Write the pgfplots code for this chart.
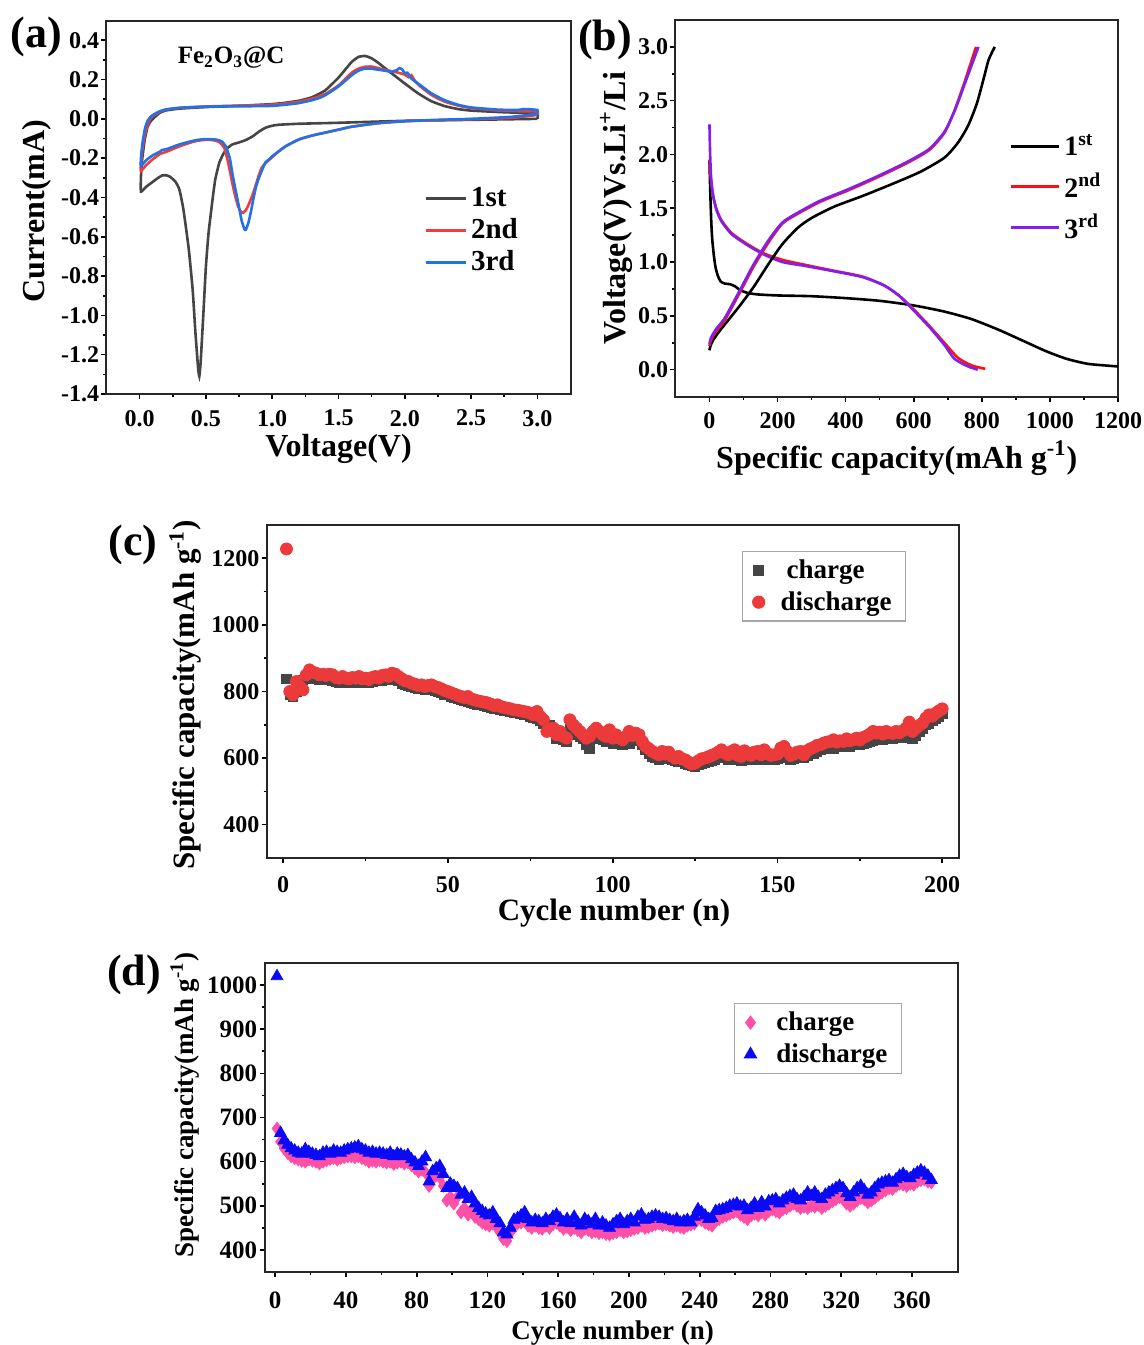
\documentclass[border=0pt]{standalone}
\usepackage{pgfplots}
\pgfplotsset{compat=1.18}
\usepackage{pgfplotstable}
\usepackage{fontspec}
\setmainfont{Liberation Serif}
\definecolor{cvgray}{HTML}{454545}
\definecolor{cvred}{HTML}{F03C3C}
\definecolor{cvblue}{HTML}{2272E6}
\definecolor{gcdred}{HTML}{FF1010}
\definecolor{gcdpur}{HTML}{8020F0}
\definecolor{cgray}{HTML}{454545}
\definecolor{cred}{HTML}{EC3A3A}
\definecolor{dpink}{HTML}{FF4FA7}
\definecolor{dblue}{HTML}{0A0AF5}
\newcommand{\fs}[1]{\fontsize{#1}{#1}\selectfont\bfseries}

\pgfplotstableread{
n c d
1 838 1228
2 790 800
3 785 790
4 800 830
5 830 815
6 835 805
7 840 850
8 842 865
9 840 858
10 838 855
11 836 850
12 838 852
13 835 848
14 836 852
15 834 850
16 830 842
17 828 840
18 830 845
19 828 840
20 826 838
21 828 842
22 826 840
23 828 845
24 826 838
25 828 840
26 827 836
27 830 842
28 832 845
29 833 840
30 834 848
31 836 850
32 835 845
33 838 855
34 836 852
35 832 845
36 825 838
37 820 832
38 818 830
39 815 825
40 812 822
41 810 818
42 808 820
43 806 815
44 805 818
45 806 820
46 804 815
47 800 812
48 796 808
49 792 803
50 790 800
51 786 796
52 782 792
53 778 788
54 775 785
55 772 782
56 770 785
57 768 778
58 765 775
59 762 772
60 760 770
61 758 768
62 755 766
63 752 762
64 750 758
65 748 760
66 746 755
67 744 752
68 742 750
69 740 748
70 738 745
71 736 744
72 734 742
73 732 740
74 730 738
75 726 735
76 722 730
77 718 740
78 712 725
79 705 715
80 690 680
81 700 685
82 680 690
83 660 670
84 665 680
85 655 665
86 650 660
87 690 715
88 680 700
89 670 690
90 665 680
91 660 670
92 640 660
93 630 665
94 660 680
95 670 690
96 665 680
97 655 670
98 650 665
99 660 685
100 645 660
101 650 670
102 648 660
103 640 655
104 650 665
105 645 680
106 652 668
107 660 675
108 655 670
109 640 650
110 625 635
111 615 628
112 605 620
113 600 615
114 595 610
115 598 620
116 602 612
117 600 618
118 595 606
119 592 600
120 590 605
121 588 598
122 584 595
123 580 588
124 576 582
125 575 585
126 580 592
127 582 598
128 585 600
129 590 604
130 592 608
131 596 612
132 600 618
133 605 625
134 600 615
135 595 610
136 598 620
137 600 625
138 594 608
139 592 605
140 600 622
141 598 612
142 596 608
143 600 618
144 598 620
145 595 610
146 600 625
147 598 614
148 594 608
149 596 610
150 598 612
151 605 630
152 610 635
153 600 620
154 596 608
155 598 612
156 602 618
157 605 620
158 600 610
159 608 622
160 612 628
161 615 632
162 620 638
163 625 640
164 628 645
165 630 648
166 632 650
167 630 655
168 634 648
169 636 652
170 635 650
171 638 658
172 636 652
173 640 655
174 642 660
175 640 654
176 645 662
177 648 666
178 650 672
179 652 680
180 655 675
181 658 678
182 656 672
183 660 680
184 662 676
185 660 674
186 664 680
187 662 676
188 665 682
189 668 690
190 662 708
191 660 680
192 668 690
193 680 698
194 690 705
195 700 720
196 705 730
197 712 726
198 718 735
199 725 742
200 735 748
}\tabc

\pgfplotstableread{
n c d
1 675 1020
3 645 665
5 630 648
7 620 638
9 612 630
11 608 625
13 605 620
15 602 618
17 600 628
19 605 622
21 602 618
23 600 615
25 596 612
27 600 620
29 603 622
31 606 618
33 608 625
35 605 622
37 608 620
39 610 625
41 612 628
43 612 630
45 610 632
47 612 635
49 608 628
51 605 625
53 600 620
55 602 622
57 600 618
59 603 620
61 600 618
63 598 615
65 600 620
67 595 612
69 598 618
71 600 616
73 596 612
75 598 615
77 592 605
79 585 598
81 578 590
83 582 600
85 575 610
87 545 555
89 560 578
91 570 585
93 565 590
95 545 572
97 512 540
99 520 550
101 505 545
103 520 540
105 485 525
107 495 530
109 480 515
111 490 520
113 475 505
115 470 495
117 462 488
119 458 482
121 455 478
123 460 485
125 452 470
127 440 460
129 425 440
131 420 435
133 440 450
135 455 468
137 460 472
139 462 478
141 465 485
143 455 470
145 450 462
147 455 468
149 450 465
151 448 460
153 455 470
155 450 465
157 458 475
159 462 480
161 455 472
163 448 462
165 452 470
167 445 460
169 450 475
171 445 462
173 440 455
175 448 470
177 445 465
179 440 458
181 442 470
183 438 455
185 440 462
187 436 455
189 435 450
191 438 458
193 440 465
195 445 470
197 440 458
199 442 465
201 445 470
203 448 462
205 450 475
207 455 480
209 450 468
211 452 470
213 455 475
215 458 478
217 460 475
219 456 470
221 458 472
223 455 468
225 452 465
227 455 470
229 452 462
231 450 465
233 455 468
235 458 462
237 460 475
239 470 492
241 468 485
243 462 478
245 458 470
247 455 472
249 465 488
251 470 490
253 475 492
255 478 495
257 482 500
259 485 502
261 488 505
263 480 498
265 475 500
267 470 490
269 478 495
271 482 505
273 478 495
275 485 508
277 480 498
279 488 510
281 492 512
283 488 515
285 485 505
287 492 512
289 495 518
291 500 522
293 505 525
295 500 515
297 495 512
299 498 520
301 495 530
303 500 522
305 498 530
307 502 520
309 495 515
311 500 525
313 505 530
315 510 535
317 515 540
319 520 545
321 515 540
323 505 528
325 500 520
327 505 530
329 512 540
331 518 545
333 515 535
335 508 525
337 512 530
339 518 540
341 525 548
343 530 552
345 535 555
347 540 558
349 538 552
351 545 560
353 550 568
355 548 572
357 545 565
359 550 562
361 548 570
363 555 575
365 558 580
367 560 575
369 555 568
371 553 558
}\tabd

\pgfplotsset{
  myax/.style={
    scale only axis,
    axis line style={line width=1pt, black!85},
    tick align=outside, tick pos=left,
    major tick length=2.5pt, minor tick length=1.5pt,
    every tick/.style={black, line width=0.8pt},
    minor tick num=1,
    /pgf/number format/assume math mode=true,
    /pgf/number format/1000 sep={},
    tick label style={font=\fs{12}},
    yticklabel style={inner xsep=1pt},
    xticklabel style={yshift=-2pt},
    label style={font=\fs{16}},
  },
}

\begin{document}
\begin{tikzpicture}
\path[use as bounding box] (0,0) rectangle (572pt,672.5pt);

% ---------- (a) ----------
\begin{axis}[myax, at={(53.25pt,475.5pt)}, anchor=south west,
  width=232pt, height=186.7pt,
  xmin=-0.25, xmax=3.25, ymin=-1.4, ymax=0.5,
  xtick={0,0.5,...,3.0}, ytick={-1.4,-1.2,...,0.41},
  xticklabel style={/pgf/number format/.cd, fixed, zerofill, precision=1},
  yticklabel style={/pgf/number format/.cd, fixed, zerofill, precision=1},
  xlabel={Voltage(V)}, ylabel={Current(mA)},
  xlabel style={at={(axis description cs:0.5,-0.147)}, anchor=center},
  ylabel style={at={(axis description cs:-0.15,0.49)}, anchor=center},
  legend style={draw=none, fill=none, at={(0.68,0.57)}, anchor=north west,
    font=\fs{14.5}, row sep=0.5pt, inner sep=1pt},
  legend cell align=left,
  legend image code/.code={\draw[#1] (0pt,0pt) -- (20pt,0pt);},
]
\addplot[cvgray, line width=1.3pt, smooth, tension=0.3] coordinates {
(3.0,0.0) (2.5,-0.005) (2.0,-0.01) (1.5,-0.02) (1.2,-0.025) (1.05,-0.03) (1.0,-0.035) (0.95,-0.045) (0.9,-0.065) (0.85,-0.09) (0.8,-0.108) (0.75,-0.12) (0.7,-0.13) (0.66,-0.15) (0.63,-0.18) (0.6,-0.225) (0.57,-0.31) (0.55,-0.41) (0.52,-0.58) (0.5,-0.75) (0.48,-1.0) (0.46,-1.24) (0.45,-1.31) (0.44,-1.26) (0.42,-1.08) (0.4,-0.87) (0.37,-0.66) (0.33,-0.46) (0.3,-0.36) (0.27,-0.32) (0.23,-0.295) (0.2,-0.287) (0.17,-0.288) (0.14,-0.3) (0.1,-0.32) (0.05,-0.345) (0.01,-0.37) (0.01,-0.29) (0.02,-0.2) (0.04,-0.1) (0.06,-0.04) (0.08,-0.015) (0.1,0.0) (0.15,0.03) (0.2,0.043) (0.3,0.052) (0.5,0.06) (0.8,0.068) (1.0,0.075) (1.1,0.082) (1.2,0.092) (1.3,0.11) (1.4,0.145) (1.5,0.21) (1.55,0.25) (1.6,0.29) (1.65,0.315) (1.7,0.32) (1.75,0.308) (1.8,0.285) (1.9,0.232) (2.0,0.18) (2.1,0.13) (2.2,0.09) (2.3,0.065) (2.4,0.05) (2.5,0.042) (2.7,0.035) (2.9,0.03) (3.0,0.028) (3.0,0.0)
};
\addlegendentry{1st}
\addplot[cvred, line width=1.3pt, smooth, tension=0.3] coordinates {
(3.0,0.02) (2.8,0.005) (2.5,-0.002) (2.2,-0.008) (2.0,-0.012) (1.8,-0.022) (1.6,-0.04) (1.5,-0.055) (1.4,-0.07) (1.3,-0.085) (1.2,-0.105) (1.1,-0.14) (1.05,-0.165) (1.0,-0.195) (0.95,-0.225) (0.92,-0.25) (0.9,-0.285) (0.87,-0.35) (0.85,-0.39) (0.82,-0.44) (0.8,-0.465) (0.78,-0.478) (0.76,-0.47) (0.74,-0.44) (0.72,-0.39) (0.7,-0.33) (0.67,-0.23) (0.64,-0.15) (0.6,-0.118) (0.55,-0.108) (0.5,-0.107) (0.45,-0.11) (0.4,-0.117) (0.3,-0.14) (0.2,-0.168) (0.15,-0.18) (0.1,-0.205) (0.05,-0.235) (0.01,-0.265) (0.01,-0.23) (0.02,-0.16) (0.04,-0.08) (0.06,-0.03) (0.08,0.0) (0.1,0.015) (0.15,0.035) (0.2,0.047) (0.3,0.056) (0.5,0.063) (0.8,0.068) (1.0,0.072) (1.1,0.078) (1.2,0.087) (1.3,0.103) (1.4,0.127) (1.5,0.17) (1.6,0.235) (1.65,0.255) (1.7,0.265) (1.75,0.266) (1.8,0.258) (1.85,0.25) (1.9,0.242) (1.95,0.235) (2.0,0.225) (2.03,0.212) (2.05,0.222) (2.07,0.2) (2.1,0.175) (2.2,0.122) (2.3,0.088) (2.4,0.068) (2.5,0.055) (2.7,0.043) (2.9,0.038) (3.0,0.037) (3.0,0.02)
};
\addlegendentry{2nd}
\addplot[cvblue, line width=1.3pt, smooth, tension=0.3] coordinates {
(3.0,0.025) (2.8,0.01) (2.5,0.0) (2.2,-0.006) (2.0,-0.012) (1.8,-0.022) (1.6,-0.04) (1.5,-0.055) (1.4,-0.07) (1.3,-0.085) (1.2,-0.105) (1.1,-0.14) (1.05,-0.165) (1.0,-0.19) (0.97,-0.21) (0.95,-0.22) (0.93,-0.25) (0.9,-0.3) (0.88,-0.34) (0.86,-0.4) (0.84,-0.47) (0.82,-0.53) (0.8,-0.565) (0.79,-0.56) (0.77,-0.52) (0.75,-0.45) (0.72,-0.35) (0.7,-0.28) (0.68,-0.2) (0.65,-0.14) (0.62,-0.115) (0.58,-0.106) (0.5,-0.103) (0.45,-0.106) (0.4,-0.112) (0.3,-0.13) (0.2,-0.155) (0.17,-0.158) (0.15,-0.168) (0.1,-0.185) (0.05,-0.21) (0.01,-0.24) (0.01,-0.2) (0.02,-0.13) (0.04,-0.05) (0.06,-0.01) (0.08,0.008) (0.1,0.02) (0.15,0.038) (0.2,0.048) (0.3,0.056) (0.5,0.062) (0.8,0.064) (1.0,0.066) (1.1,0.072) (1.2,0.08) (1.3,0.095) (1.35,0.105) (1.4,0.12) (1.5,0.165) (1.6,0.222) (1.65,0.245) (1.7,0.256) (1.75,0.255) (1.8,0.25) (1.85,0.245) (1.9,0.24) (1.94,0.248) (1.96,0.258) (1.98,0.252) (2.0,0.232) (2.02,0.235) (2.05,0.205) (2.1,0.18) (2.2,0.13) (2.3,0.095) (2.4,0.072) (2.5,0.058) (2.7,0.047) (2.85,0.045) (2.9,0.05) (3.0,0.045) (3.0,0.025)
};
\addlegendentry{3rd}
\node[font=\fs{12.5}] at (axis cs:0.69,0.31) {Fe\textsubscript{2}O\textsubscript{3}@C};
\end{axis}

% ---------- (b) ----------
\begin{axis}[myax, at={(337.7pt,474.2pt)}, anchor=south west,
  width=221.3pt, height=188.3pt,
  xmin=-100, xmax=1200, ymin=-0.25, ymax=3.25,
  xtick={0,200,...,1200}, ytick={0,0.5,...,3.0},
  yticklabel style={/pgf/number format/.cd, fixed, zerofill, precision=1},
  xlabel={Specific capacity(mAh g\textsuperscript{-1})},
  ylabel={Voltage(V)Vs.Li\textsuperscript{+}/Li},
  xlabel style={at={(axis description cs:0.5,-0.163)}, anchor=center},
  ylabel style={at={(axis description cs:-0.134,0.50)}, anchor=center},
  legend style={draw=none, fill=none, at={(0.75,0.713)}, anchor=north west,
    font=\fs{14}, row sep=3pt, inner sep=1pt},
  legend cell align=left,
  legend image code/.code={\draw[#1] (0pt,0pt) -- (24pt,0pt);},
]
\addplot[black, line width=1.3pt, smooth, tension=0.4] coordinates {
(0,1.95) (2,1.7) (5,1.4) (8,1.22) (13,1.06) (18,0.95) (25,0.87) (33,0.82) (45,0.8) (60,0.795) (75,0.775) (90,0.74) (110,0.715) (140,0.70) (200,0.69) (300,0.683) (400,0.665) (500,0.64) (600,0.597) (690,0.54) (770,0.47) (850,0.37) (920,0.27) (990,0.17) (1050,0.1) (1110,0.055) (1160,0.04) (1200,0.03)
};
\addlegendentry{1\textsuperscript{st}}
\addplot[gcdred, line width=1.3pt, smooth, tension=0.4] coordinates {
(0,1.95) (2,1.85) (5,1.75) (10,1.63) (20,1.5) (35,1.39) (65,1.27) (110,1.17) (160,1.08) (215,1.02) (280,0.975) (365,0.92) (450,0.865) (515,0.78) (560,0.68) (600,0.56) (645,0.41) (690,0.25) (730,0.11) (770,0.04) (810,0.008)
};
\addlegendentry{2\textsuperscript{nd}}
\addplot[gcdpur, line width=1.3pt, smooth, tension=0.4] coordinates {
(0,2.28) (2,2.0) (5,1.78) (10,1.63) (20,1.49) (35,1.38) (65,1.26) (110,1.16) (160,1.07) (215,1.0) (280,0.965) (365,0.915) (450,0.86) (515,0.78) (560,0.68) (600,0.55) (645,0.40) (690,0.23) (720,0.1) (760,0.03) (788,0.0)
};
\addlegendentry{3\textsuperscript{rd}}
\addplot[black, line width=1.3pt, smooth, tension=0.4, forget plot] coordinates {
(0,0.18) (3,0.22) (10,0.27) (25,0.34) (45,0.42) (88,0.59) (130,0.77) (175,0.99) (215,1.17) (260,1.32) (300,1.41) (366,1.515) (450,1.615) (540,1.73) (620,1.84) (690,1.97) (730,2.11) (760,2.27) (785,2.47) (805,2.7) (820,2.88) (838,3.0)
};
\addplot[gcdred, line width=1.3pt, smooth, tension=0.4, forget plot] coordinates {
(0,0.22) (5,0.28) (20,0.36) (45,0.46) (88,0.71) (130,0.96) (175,1.19) (215,1.36) (260,1.45) (325,1.56) (410,1.67) (495,1.79) (580,1.92) (645,2.04) (690,2.2) (720,2.41) (750,2.68) (783,3.0)
};
\addplot[gcdpur, line width=1.3pt, smooth, tension=0.4, forget plot] coordinates {
(0,0.24) (5,0.3) (20,0.38) (45,0.48) (88,0.73) (130,0.98) (175,1.21) (215,1.37) (260,1.46) (325,1.57) (410,1.68) (495,1.8) (580,1.93) (645,2.05) (690,2.21) (722,2.42) (755,2.7) (790,3.0)
};
\end{axis}

% ---------- (c) ----------
\begin{axis}[myax, at={(133.35pt,243.5pt)}, anchor=south west,
  width=346pt, height=166.5pt,
  xmin=-5, xmax=205, ymin=300, ymax=1300,
  xtick={0,50,...,200}, ytick={400,600,...,1200},
  xticklabel style={yshift=-1pt},
  xlabel={Cycle number (n)},
  ylabel={Specific capacity(mAh g\textsuperscript{-1})},
  label style={font=\fs{15.5}},
  xlabel style={at={(axis description cs:0.502,-0.165)}, anchor=center},
  ylabel style={at={(axis description cs:-0.118,0.49)}, anchor=center},
  legend style={draw=black!35, line width=0.6pt, fill=white, at={(0.687,0.922)}, anchor=north west,
    font=\fs{13.5}, row sep=1pt, inner xsep=5pt, inner ysep=2pt},
  legend cell align=left,
]
\addplot[only marks, mark=square*, mark size=2.4pt, color=cgray] table[x=n, y=c] {\tabc};
\addlegendentry{\hspace{9pt}charge}
\addplot[only marks, mark=*, mark size=3pt, color=cred] table[x=n, y=d] {\tabc};
\addlegendentry{\hspace{6pt}discharge}
\end{axis}

% ---------- (d) ----------
\begin{axis}[myax, at={(132.3pt,36.5pt)}, anchor=south west,
  width=346.7pt, height=154.5pt,
  xmin=-6, xmax=386, ymin=350, ymax=1050,
  xtick={0,40,...,360}, ytick={400,500,...,1000},
  xticklabel style={yshift=-2pt},
  xlabel={Cycle number (n)},
  ylabel={Specific capacity(mAh g\textsuperscript{-1})},
  label style={font=\fs{13.5}},
  tick label style={font=\fs{12.5}},
  xlabel style={at={(axis description cs:0.502,-0.197)}, anchor=center},
  ylabel style={at={(axis description cs:-0.115,0.54)}, anchor=center},
  legend style={draw=black!35, line width=0.6pt, fill=white, at={(0.677,0.87)}, anchor=north west,
    font=\fs{13.5}, row sep=1pt, inner xsep=5pt, inner ysep=2pt},
  legend cell align=left,
]
\addplot[only marks, mark=diamond*, mark size=3.2pt, color=dpink] table[x=n, y=c] {\tabd};
\addlegendentry{\hspace{8pt}charge}
\addplot[only marks, mark=triangle*, mark size=3.4pt, color=dblue] table[x=n, y=d] {\tabd};
\addlegendentry{\hspace{8pt}discharge}
\end{axis}

% panel labels
\node[font=\fs{22}] at (18pt,654pt) {(a)};
\node[font=\fs{22}] at (302.5pt,652.5pt) {(b)};
\node[font=\fs{22}] at (66.5pt,400pt) {(c)};
\node[font=\fs{22}] at (67pt,185pt) {(d)};
\end{tikzpicture}
\end{document}
